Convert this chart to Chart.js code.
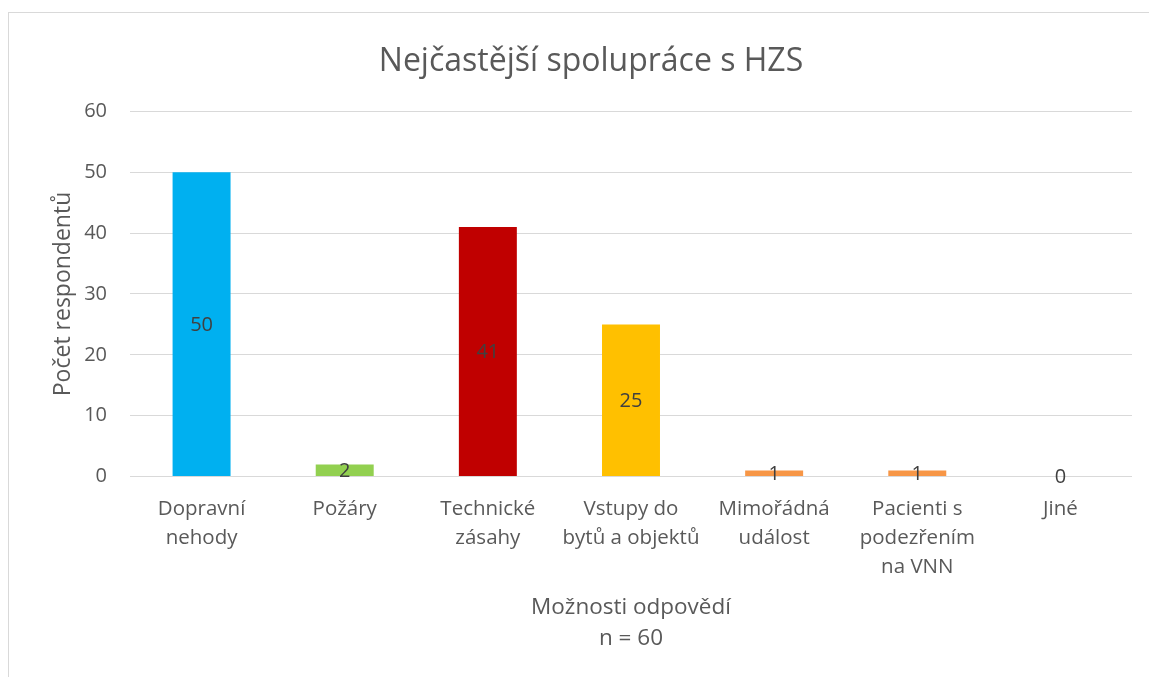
<!DOCTYPE html>
<html>
<head>
<meta charset="utf-8">
<script src="https://cdn.jsdelivr.net/npm/chart.js@4"></script>
<style>
  body { margin: 0; background: #fff; }
  #frame { position: absolute; left: 8px; top: 12px; width: 1200px; height: 700px; border: 1px solid #d9d9d9; }
  #wrap { position: absolute; left: 0; top: 0; width: 1149px; height: 677px; }
</style>
</head>
<body>
<div id="frame"></div>
<div id="wrap"><canvas id="chart" width="1149" height="677"></canvas></div>
<script>
// data
const categories = [
  ["Dopravní", "nehody"],
  ["Požáry"],
  ["Technické", "zásahy"],
  ["Vstupy do", "bytů a objektů"],
  ["Mimořádná", "událost"],
  ["Pacienti s", "podezřením", "na VNN"],
  ["Jiné"]
];
const respondents = [50, 2, 41, 25, 1, 1, 0];
const barColors = ["#00B0F0", "#92D050", "#C00000", "#FFC000", "#F79646", "#F79646", "#F79646"];

const textColor = "#595959";
const fontFamily = "'Open Sans', 'Noto Sans', sans-serif";

// labels in the middle of each bar
const barLabels = {
  id: "barLabels",
  afterDatasetsDraw(chart) {
    const ctx = chart.ctx;
    const meta = chart.getDatasetMeta(0);
    ctx.save();
    ctx.font = "20px " + fontFamily;
    ctx.fillStyle = "#404040";
    ctx.textAlign = "center";
    ctx.textBaseline = "middle";
    meta.data.forEach((bar, i) => {
      const p = bar.getProps(["x", "y", "base"], true);
      ctx.fillText(String(respondents[i]), p.x, (p.y + p.base) / 2 + 1);
    });
    ctx.restore();
  }
};

new Chart(document.getElementById("chart"), {
  type: "bar",
  data: {
    labels: categories,
    datasets: [{
      data: respondents,
      backgroundColor: barColors,
      categoryPercentage: 1,
      barPercentage: 0.405
    }]
  },
  options: {
    responsive: false,
    animation: false,
    layout: { padding: { left: 50, right: 17, top: 0, bottom: 23 } },
    plugins: {
      legend: { display: false },
      tooltip: { enabled: false },
      title: {
        display: true,
        text: "Nejčastější spolupráce s HZS",
        color: textColor,
        font: { family: fontFamily, size: 32, weight: "normal", lineHeight: 1.2 },
        padding: { top: 43, bottom: 30 }
      }
    },
    scales: {
      x: {
        grid: { display: false },
        border: { display: false },
        ticks: {
          color: textColor,
          font: { family: fontFamily, size: 20.5, lineHeight: 1.42 },
          maxRotation: 0,
          autoSkip: false,
          padding: 10
        },
        title: {
          display: true,
          text: ["Možnosti odpovědí", "n = 60"],
          color: textColor,
          font: { family: fontFamily, size: 22.5, lineHeight: 1.38 },
          padding: { top: 0, bottom: 0 }
        }
      },
      y: {
        min: 0,
        max: 60,
        afterFit(scale) { scale.width = 80; },
        ticks: {
          stepSize: 10,
          color: textColor,
          font: { family: fontFamily, size: 20 },
          padding: 23
        },
        grid: { color: "#d9d9d9", lineWidth: 1, drawTicks: false },
        border: { display: false },
        title: {
          display: true,
          text: "Počet respondentů",
          color: textColor,
          font: { family: fontFamily, size: 23 },
          padding: { top: 0, bottom: 0 }
        }
      }
    }
  },
  plugins: [barLabels]
});
</script>
</body>
</html>
